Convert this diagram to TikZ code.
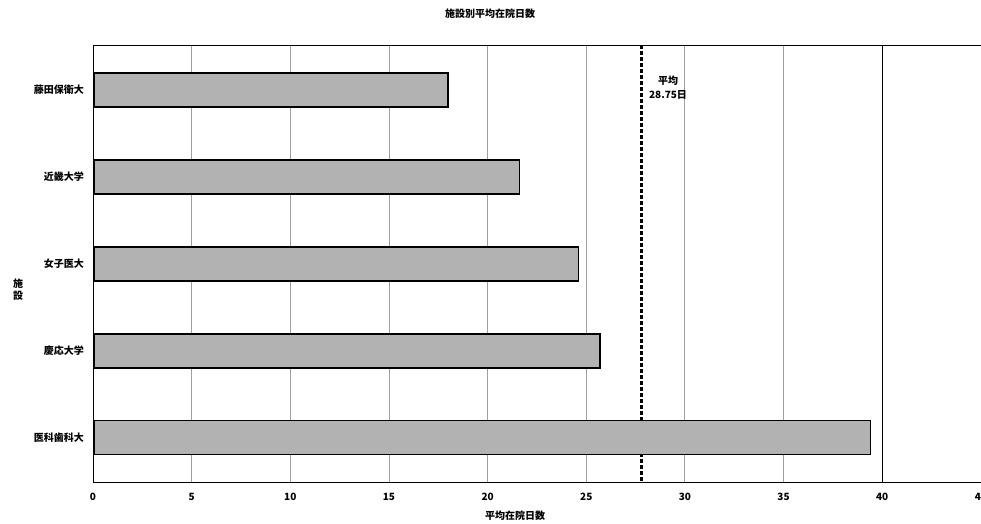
\documentclass[tikz,border=0pt]{standalone}
\usepackage{fontspec}
\newfontfamily\cjk{Noto Sans CJK JP}
\usepackage{tikz}
\usetikzlibrary{positioning}
\tikzset{
    barbox/.style={
        draw=black,
        line width=1.3pt,
        fill=gray!60
    },
    catlabel/.style={
        anchor=east,
        inner sep=1pt,
        font=\cjk\bfseries\fontsize{10pt}{12pt}\selectfont
    },
    ticklabel/.style={
        inner sep=1pt,
        font=\cjk\bfseries\fontsize{10pt}{12pt}\selectfont
    },
    gridline/.style={
        draw=gray!75,
        line width=0.9pt
    }
}

\begin{document}
\begin{tikzpicture}[x=1pt,y=-1pt]
        \def\len{19.73}
        \useasboundingbox (0,0) rectangle (981,523);
        \coordinate (O) at (93,482);
        \coordinate (T) at (93,45);
        \coordinate (R) at (981,482);
        \coordinate (TR) at (981,45);

        % grid
        \foreach \v in {5,10,...,35}
            \draw[gridline] (93+\v*\len,45) -- (93+\v*\len,482);
        \draw[line width=1pt] (93+40*\len,45) -- (93+40*\len,482);

        % average
        \coordinate (avgtop) at (93+27.8*\len,45);
        \coordinate (avgbot) at (93+27.8*\len,482);
        \draw[line width=2.2pt, dash pattern=on 4pt off 2pt] (avgtop) -- (avgbot);
        \node[ticklabel] (avg) at (668,81) {平均};
        \node[ticklabel, below = 2pt of avg] (avgval) {28.75日};

        % bars
        \foreach \name/\val/\yc [count=\i] in {藤田保衛大/18.0/90,近畿大学/21.6/177,女子医大/24.6/264,慶応大学/25.7/351,医科歯科大/39.4/437.5} {
            \draw[barbox] (94,\yc-17) rectangle (93+\val*\len,\yc+17);
            \node[catlabel] (cat\i) at (85,\yc) {\name};
        }

        % frame
        \draw[line width=1pt] (T) -- (O) -- (R);
        \draw[line width=1pt] (T) -- (TR);

        % ticks
        \foreach \v in {0,5,...,45}
            \node[ticklabel] (tick\v) at (93+\v*\len,497) {\v};

        % titles
        \node[ticklabel] (title) at (490,14) {施設別平均在院日数};
        \node[ticklabel] (xlabel) at (515,516) {平均在院日数};
        \node[ticklabel, align=center] (ylabel) at (18,290) {施\\設};
    \end{tikzpicture}
\end{document}
